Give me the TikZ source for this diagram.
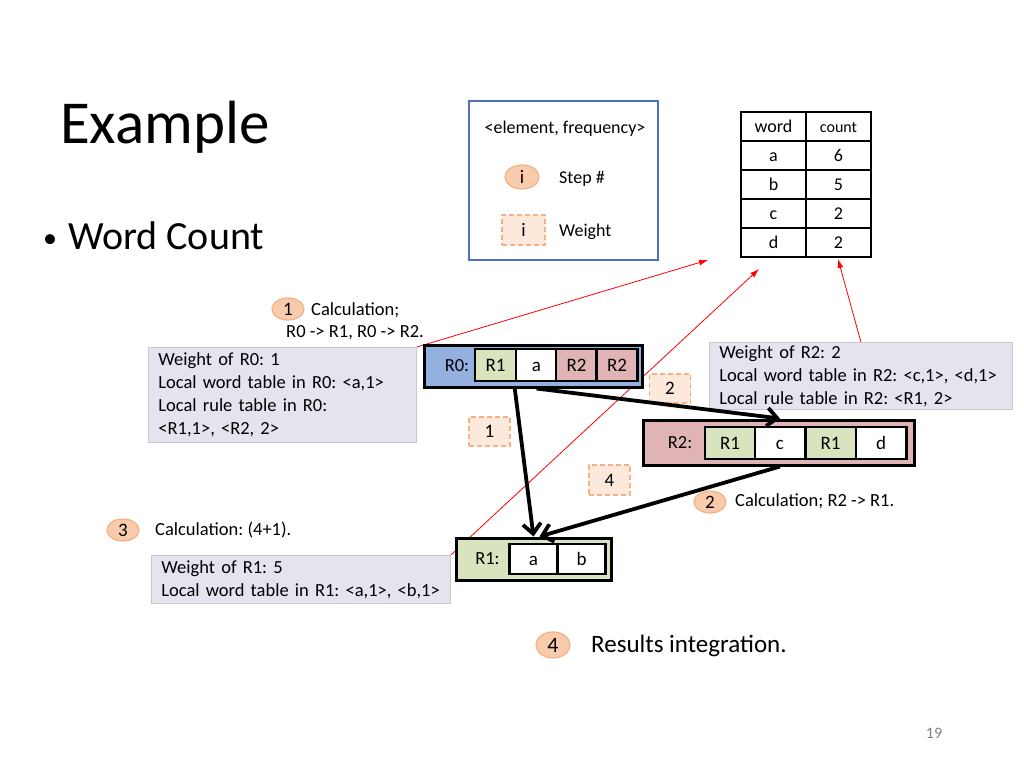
\documentclass[tikz,border=0pt]{standalone}
\usepackage{fontspec}
\setmainfont{Carlito}
\usetikzlibrary{arrows.meta,backgrounds,positioning,shapes.geometric}
\definecolor{legendblue}{RGB}{79,114,184}
\definecolor{stepfill}{RGB}{248,203,173}
\definecolor{stepline}{RGB}{244,177,131}
\definecolor{wfill}{RGB}{252,233,219}
\definecolor{infobg}{RGB}{229,227,237}
\definecolor{infoline}{RGB}{200,200,206}
\definecolor{rzero}{RGB}{148,176,222}
\definecolor{rone}{RGB}{215,228,189}
\definecolor{rtwo}{RGB}{224,180,180}

\begin{document}
\frenchspacing
\begin{tikzpicture}[x=1pt,y=-1pt,
  txt/.style={font=\fontsize{18.5}{23}\selectfont,inner sep=0pt},
  stepnum/.style={ellipse,draw=stepline,fill=stepfill,line width=1.2pt,minimum width=32pt,minimum height=22pt,inner sep=0pt,text height=12pt,text depth=0pt,font=\fontsize{19}{23}\selectfont},
  wbox/.style={draw=stepline,dash pattern=on 5pt off 3pt,fill=wfill,line width=1.2pt,minimum width=41pt,minimum height=30pt,inner sep=0pt,text height=12pt,text depth=0pt,font=\fontsize{19}{23}\selectfont},
  infobox/.style={draw=infoline,fill=infobg,line width=0.8pt,anchor=north west,align=left,inner xsep=10pt,inner ysep=0pt,font=\fontsize{18.5}{23}\selectfont},
  region/.style={draw=black,line width=3pt,inner sep=0pt},
  cell/.style={draw=black,line width=2.5pt,minimum height=32pt,inner sep=0pt,text height=12pt,text depth=0pt,font=\fontsize{19}{23}\selectfont},
  tcell/.style={draw=black,line width=1.2pt,minimum width=65pt,minimum height=29pt,inner sep=0pt,text height=12pt,text depth=0pt,font=\fontsize{18}{22}\selectfont},
  flow/.style={line width=3.8pt,-{Straight Barb[length=10pt,width=18pt]}},
  link/.style={red,line width=0.8pt,-{Latex[length=9pt,width=6pt]}}]
\useasboundingbox (0,0) rectangle (1024,768);

\node[anchor=base west,inner sep=0pt,font=\fontsize{61}{70}\selectfont] (title) at (60,143) {Example};
\node[anchor=base west,inner sep=0pt,font=\fontsize{28}{34}\selectfont] (bullet) at (43,247) {•};
\node[anchor=base west,inner sep=0pt,font=\fontsize{40}{48}\selectfont] (subtitle) at (68,249) {Word Count};

\node[draw=legendblue,line width=1.5pt,minimum width=189pt,minimum height=159pt] (legend) at (563.5,180.5) {};
\node[txt,font=\fontsize{18}{22}\selectfont] (legtitle) at (565,129) {<element, frequency>};
\node[stepnum,minimum width=34pt,minimum height=24pt] (legstep) at (522,177) {i};
\node[txt,anchor=west,font=\fontsize{18}{22}\selectfont] (legsteptxt) at (559,179) {Step \#};
\node[wbox,minimum width=43pt] (legweight) at (523.5,230) {i};
\node[txt,anchor=west,font=\fontsize{18}{22}\selectfont] (legweighttxt) at (559,232) {Weight};

\node[tcell] (word) at (773.5,126.5) {word};
\node[tcell,font=\fontsize{16}{19}\selectfont] (count) at (838.5,126.5) {count};
\foreach \w/\c [count=\i] in {a/6,b/5,c/2,d/2}
{
  \node[tcell] (w\i) at (773.5,126.5+29*\i) {\w};
  \node[tcell] (c\i) at (838.5,126.5+29*\i) {\c};
}

\node[stepnum] (s1) at (288,309) {1};
\node[txt,anchor=west] (s1a) at (311,310) {Calculation;};
\node[txt,anchor=west] (s1b) at (286,333) {R0 -> R1, R0 -> R2.};
\node[infobox,text width=248pt,minimum height=95pt] (r0info) at (148,347) {Weight of R0: 1\\Local word table in R0: <a,1>\\Local rule table in R0:\\<R1,1>, <R2, 2>};

\node[region,fill=rzero,minimum width=218pt,minimum height=42pt] (r0) at (533,366) {};
\node[txt] (r0lbl) at (457,366) {R0:};
\foreach \t/\f/\x [count=\k] in {R1/rone/495.5,a/white/536.5,R2/rtwo/576.5,R2/rtwo/617}
  \node[cell,fill=\f,minimum width=41pt] (r0c\k) at (\x,365) {\t};

\node[infobox,text width=283pt,minimum height=67pt] (r2info) at (709,342) {Weight of R2: 2\\Local word table in R2: <c,1>, <d,1>\\Local rule table in R2: <R1, 2>};

\node[region,fill=rtwo,minimum width=271pt,minimum height=45pt] (r2) at (778.5,442.5) {};
\node[txt] (r2lbl) at (680,443) {R2:};
\foreach \t/\f/\x [count=\k] in {R1/rone/730,c/white/780,R1/rone/830.5,d/white/881}
  \node[cell,fill=\f,minimum width=50.5pt] (r2c\k) at (\x,443) {\t};

\node[region,fill=rone,minimum width=155pt,minimum height=42pt] (r1) at (533.5,559) {};
\node[txt] (r1lbl) at (487.5,559) {R1:};
\foreach \t/\x [count=\k] in {a/533.5,b/581.5}
  \node[cell,fill=white,minimum width=48pt,minimum height=30pt] (r1c\k) at (\x,559) {\t};

\node[wbox,minimum height=29pt] (wtwo) at (670,388.5) {2};
\node[wbox,minimum height=29pt] (wone) at (489.5,431.5) {1};
\node[wbox] (wfour) at (609.5,480) {4};

\node[stepnum] (s2) at (710,502) {2};
\node[txt,anchor=west] (s2a) at (735,501) {Calculation; R2 -> R1.};
\node[stepnum] (s3) at (123,530) {3};
\node[txt,anchor=west] (s3a) at (155,530) {Calculation: (4+1).};
\node[infobox,text width=279pt,minimum height=48pt] (r1info) at (151,555) {Weight of R1: 5\\Local word table in R1: <a,1>, <b,1>};
\node[stepnum,minimum width=34pt,minimum height=26pt,text height=14pt,font=\fontsize{22}{26}\selectfont] (s4) at (553,645) {4};
\node[txt,anchor=west,font=\fontsize{25}{30}\selectfont] (s4a) at (591,646) {Results integration.};

\node[text=gray,inner sep=0pt,font=\fontsize{16}{19}\selectfont] (pagenum) at (934,733) {19};

\coordinate (tipone) at (708,260);
\coordinate (tiptwo) at (759,269);
\coordinate (tipthree) at (838,259);
\begin{scope}[on background layer]
\draw[link] (r0info.north east) -- (tipone);
\draw[link] (r1info.north east) -- (tiptwo);
\draw[link] (r2info.north) -- (tipthree);
\end{scope}

\coordinate (r1top) at (r1c1.north |- r1.north);
\draw[flow] (r0c2.south west |- r0.south) -- (r1top);
\draw[flow] (r0c2.south |- r0.south) -- (r2c2.north |- r2.north);
\draw[flow] (r2c2.south |- r2.south) -- ([xshift=6pt]r1top);
\end{tikzpicture}
\end{document}
